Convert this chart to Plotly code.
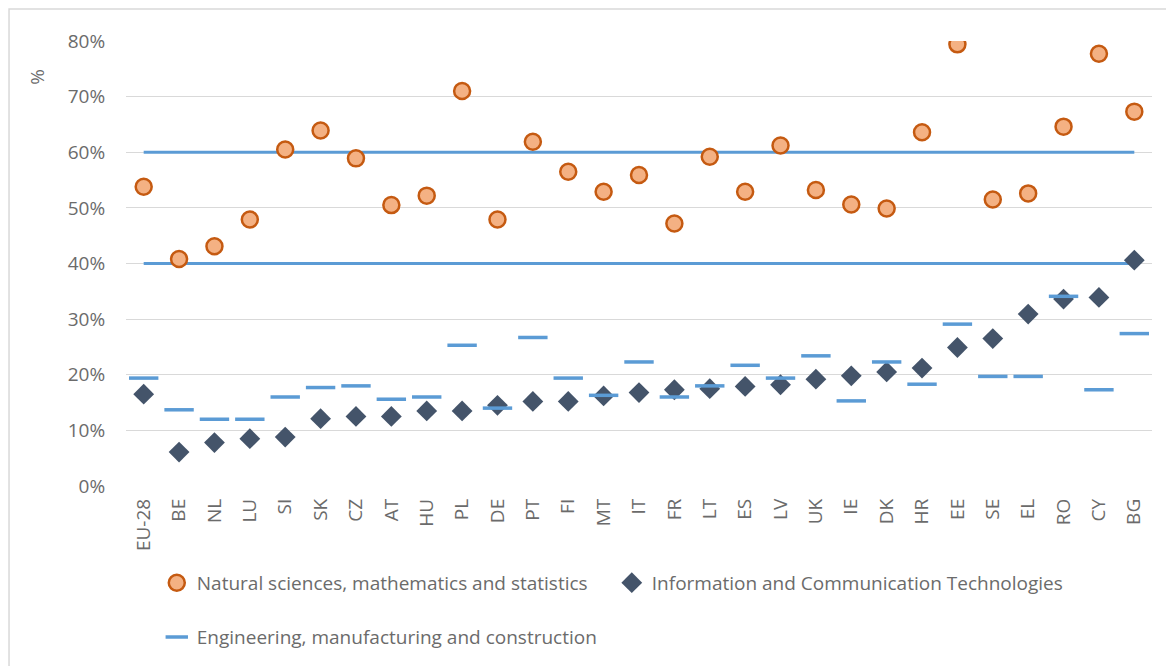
import plotly.graph_objects as go

# Countries (sorted as in the source chart)
countries = ["EU-28", "BE", "NL", "LU", "SI", "SK", "CZ", "AT", "HU", "PL", "DE", "PT", "FI", "MT",
             "IT", "FR", "LT", "ES", "LV", "UK", "IE", "DK", "HR", "EE", "SE", "EL", "RO", "CY", "BG"]

# Shares (fractions)
natural_sciences = [0.538, 0.408, 0.431, 0.479, 0.605, 0.639, 0.589, 0.505, 0.522, 0.710, 0.479,
                    0.619, 0.565, 0.529, 0.559, 0.472, 0.592, 0.529, 0.612, 0.532, 0.506, 0.499,
                    0.636, 0.794, 0.515, 0.526, 0.646, 0.777, 0.673]
ict = [0.165, 0.061, 0.078, 0.085, 0.088, 0.121, 0.125, 0.125, 0.135, 0.135, 0.145, 0.152, 0.152,
       0.162, 0.168, 0.173, 0.175, 0.179, 0.182, 0.192, 0.198, 0.205, 0.212, 0.249, 0.265, 0.309,
       0.336, 0.339, 0.406]
engineering = [0.194, 0.137, 0.120, 0.120, 0.160, 0.177, 0.180, 0.156, 0.160, 0.253, 0.140, 0.267,
               0.194, 0.163, 0.223, 0.160, 0.180, 0.217, 0.194, 0.234, 0.153, 0.223, 0.183, 0.291,
               0.197, 0.197, 0.341, 0.173, 0.274]

# Reference levels drawn as horizontal lines
ref_levels = [0.40, 0.60]

font = "Open Sans"
grey = "#6b6b6b"

fig = go.Figure()

for lvl in ref_levels:
    fig.add_trace(go.Scatter(x=[countries[0], countries[-1]], y=[lvl, lvl], mode="lines",
                             line=dict(color="#5B9BD5", width=3), showlegend=False,
                             hoverinfo="skip"))

fig.add_trace(go.Scatter(x=countries, y=natural_sciences, mode="markers",
                         name="Natural sciences, mathematics and statistics",
                         marker=dict(symbol="circle", size=16, color="#F4B183",
                                     line=dict(color="#C55A11", width=2.5))))
fig.add_trace(go.Scatter(x=countries, y=ict, mode="markers",
                         name="Information and Communication Technologies",
                         marker=dict(symbol="diamond", size=16, color="#44546A",
                                     line=dict(width=0))))
fig.add_trace(go.Scatter(x=countries, y=engineering, mode="markers",
                         name="Engineering, manufacturing and construction", legend="legend2",
                         marker=dict(symbol="line-ew", size=21, color="#5B9BD5",
                                     line=dict(color="#5B9BD5", width=3.5))))

fig.update_layout(
    width=1174, height=666,
    margin=dict(l=118, r=30, t=33, b=188),
    paper_bgcolor="white", plot_bgcolor="white",
    font=dict(family=font, size=19, color=grey),
    legend=dict(orientation="h", x=0.03, xanchor="left", y=-0.175, yanchor="top",
                font=dict(size=19, color=grey), entrywidth=410, entrywidthmode="pixels"),
    legend2=dict(orientation="h", x=0.03, xanchor="left", y=-0.297, yanchor="top",
                 font=dict(size=19, color=grey)),
    xaxis=dict(tickangle=-90, showgrid=False, showline=False, ticks="",
               categoryorder="array", categoryarray=countries,
               range=[-0.5, len(countries) - 0.5], ticklabelstandoff=8,
               tickfont=dict(size=19, color=grey)),
    yaxis=dict(range=[0, 0.8], tickformat=".0%", dtick=0.1, showgrid=True,
               gridcolor="#D9D9D9", gridwidth=1, zeroline=False, showline=False,
               ticks="outside", ticklen=16, tickcolor="white",
               tickfont=dict(size=19, color=grey)),
    shapes=[dict(type="rect", xref="paper", yref="paper", x0=-0.114, x1=1.2, y0=-0.9, y1=1.072,
                 line=dict(color="#D9D9D9", width=1.5), layer="below")],
    annotations=[dict(text="%", xref="paper", yref="paper", x=-0.087, y=0.919, showarrow=False,
                      xanchor="center", yanchor="middle",
                      textangle=-90, font=dict(size=19, color=grey))],
)

fig.write_html("out.html")
